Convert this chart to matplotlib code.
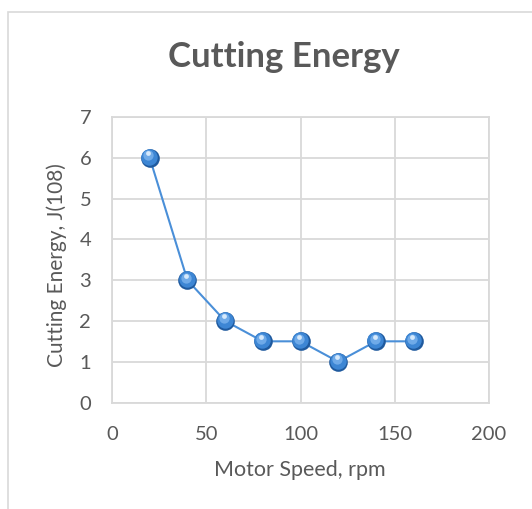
import matplotlib
matplotlib.use("Agg")
import matplotlib.pyplot as plt
from matplotlib.patches import Rectangle
from matplotlib.transforms import offset_copy

# motor speed (rpm) vs cutting energy
speed = [20, 40, 60, 80, 100, 120, 140, 160]
energy = [6, 3, 2, 1.5, 1.5, 1, 1.5, 1.5]

x_ticks = [0, 50, 100, 150, 200]
y_ticks = [0, 1, 2, 3, 4, 5, 6, 7]

grey_txt = "#595959"
grid_col = "#D9D9D9"
line_col = "#4A8FD8"

plt.rcParams["font.family"] = ["Lato", "DejaVu Sans"]

fig = plt.figure(figsize=(5.32, 5.09), dpi=100)
fig.patch.set_facecolor("white")

# chart frame
fig.patches.append(Rectangle((8 / 532, -0.1), 1.2, 1 - 12 / 509 + 0.1,
                             transform=fig.transFigure, fill=False,
                             edgecolor="#D9D9D9", linewidth=1.2))

ax = fig.add_axes([112 / 532, 1 - 402.5 / 509, (489 - 112) / 532, (402.5 - 117) / 509])
ax.set_xlim(0, 200)
ax.set_ylim(0, 7)
ax.set_xticks(x_ticks)
ax.set_yticks(y_ticks)
ax.grid(True, color=grid_col, linewidth=1.3)
ax.set_axisbelow(True)
for s in ax.spines.values():
    s.set_color(grid_col)
    s.set_linewidth(1.3)
ax.tick_params(length=0, labelsize=14.5, colors=grey_txt)
ax.tick_params(axis="y", pad=15)
ax.tick_params(axis="x", pad=17)

ax.plot(speed, energy, color=line_col, linewidth=1.5, zorder=3)

# shaded sphere markers
ax.scatter(speed, energy, s=180, color="#1F5A9E", zorder=4, linewidths=0)
ax.scatter(speed, energy, s=140, color="#3D86D4", zorder=5, linewidths=0,
           transform=offset_copy(ax.transData, fig=fig, x=-0.4, y=0.6, units="points"))
ax.scatter(speed, energy, s=55, color="#6FAAE8", zorder=6, linewidths=0,
           transform=offset_copy(ax.transData, fig=fig, x=-1.0, y=1.8, units="points"))
ax.scatter(speed, energy, s=12, color="#D6E9FB", zorder=7, linewidths=0,
           transform=offset_copy(ax.transData, fig=fig, x=-1.0, y=3.2, units="points"))

fig.text(300 / 532, 1 - 470 / 509, "Motor Speed, rpm", fontsize=15.5, color=grey_txt,
         ha="center", va="center")
fig.text(57 / 532, 1 - 265 / 509, "Cutting Energy, J(108)", fontsize=15, color=grey_txt,
         ha="center", va="center", rotation=90)

fig.text(284 / 532, 1 - 57 / 509, "Cutting Energy", fontsize=25, fontweight="bold",
         color=grey_txt, ha="center", va="center")

fig.savefig("out.png", dpi=100)
